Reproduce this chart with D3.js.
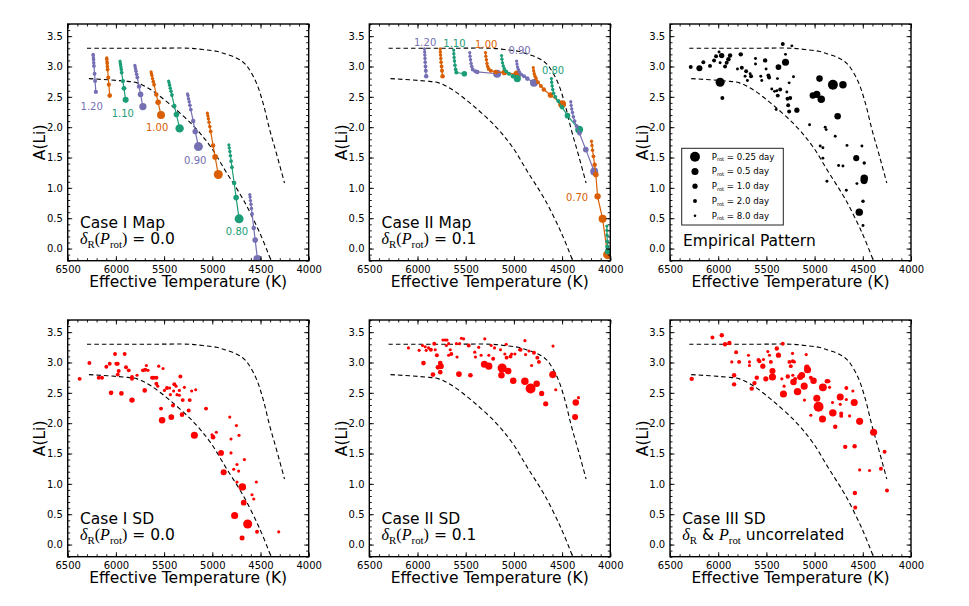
<!DOCTYPE html>
<html><head><meta charset="utf-8">
<script src="https://cdn.jsdelivr.net/npm/d3@7"></script>
<style>body{margin:0;background:#fff}svg{display:block}text{white-space:pre}</style>
</head><body><svg id="c" width="969" height="606"></svg>
<script>
// ---------------- DATA ----------------
const xTicks = [6500, 6000, 5500, 5000, 4500, 4000];
const yTicks = [0.0, 0.5, 1.0, 1.5, 2.0, 2.5, 3.0, 3.5];

// dashed envelope curves [Teff, A(Li)]
const upperT = [6300, 5700, 5230, 5100, 4955, 4850, 4749, 4680, 4628, 4543, 4474, 4405, 4337, 4251];
const upperA = [3.30, 3.30, 3.30, 3.28, 3.25, 3.20, 3.14, 3.07, 2.98, 2.73, 2.40, 1.96, 1.58, 1.08];
const lowerT = [6280, 5916, 5779, 5641, 5435, 5195, 5023, 4852, 4680, 4508, 4390];
const lowerA = [2.80, 2.76, 2.73, 2.62, 2.37, 2.02, 1.69, 1.25, 0.81, 0.26, -0.20];

// Case I map tracks: [Teff, A(Li), Prot]
const case1Masses = ["1.20","1.15","1.10","1.05","1.00","0.95","0.90","0.85","0.80","0.75"];
const case1Tracks = [
 [[6236,3.20,8],[6235,3.18,7],[6233,3.14,6],[6232,3.11,5],[6230,3.06,5],[6228,3.01,4],[6221,2.88,4],[6216,2.76,3],[6208,2.58,2.5]],
 [[6095,3.14,8],[6094,3.12,7],[6092,3.08,6],[6090,3.05,5],[6088,3.00,5],[6086,2.95,4],[6079,2.82,3],[6073,2.70,2.5],[6064,2.52,1.8]],
 [[5957,3.09,10],[5955,3.06,8],[5952,3.03,7],[5948,2.99,6],[5944,2.95,5],[5940,2.90,4],[5927,2.76,2.5],[5916,2.64,1.5],[5899,2.45,0.8]],
 [[5803,3.02,10],[5800,2.99,8],[5796,2.96,7],[5791,2.92,6],[5785,2.87,5],[5778,2.82,4],[5760,2.67,2],[5744,2.54,1],[5720,2.34,0.5]],
 [[5635,2.91,10],[5631,2.88,8],[5626,2.85,7],[5620,2.80,6],[5612,2.75,5],[5604,2.70,4],[5581,2.54,2],[5562,2.41,1],[5532,2.20,0.4]],
 [[5453,2.76,10],[5448,2.73,8],[5443,2.69,7],[5436,2.64,6],[5428,2.59,5],[5419,2.53,4],[5394,2.35,2],[5372,2.21,1],[5339,1.98,0.35]],
 [[5257,2.55,10],[5252,2.52,8],[5247,2.47,7],[5240,2.42,6],[5232,2.36,5],[5223,2.29,4],[5198,2.10,2],[5177,1.93,1],[5144,1.68,0.3]],
 [[5051,2.23,10],[5046,2.19,8],[5041,2.14,7],[5034,2.08,6],[5026,2.01,5],[5017,1.93,4],[4992,1.70,2],[4971,1.51,1],[4938,1.22,0.3]],
 [[4828,1.71,10],[4824,1.66,8],[4818,1.60,7],[4812,1.53,6],[4805,1.44,5],[4796,1.34,4],[4773,1.08,2],[4753,0.84,1],[4722,0.49,0.3]],
 [[4611,0.89,10],[4608,0.85,8],[4604,0.79,7],[4599,0.73,6],[4594,0.66,5],[4587,0.57,4],[4570,0.34,2],[4555,0.14,1],[4532,-0.17,0.4]]
];
const case1Labels = [["1.20",6251,2.34],["1.10",5928,2.22],["1.00",5572,2.00],["0.90",5177,1.45],["0.80",4744,0.28]];

// Case II map tracks
const case2Masses = ["1.20","1.15","1.10","1.05","1.00","0.95","0.90","0.85","0.80","0.75","0.70","0.65"];
const case2Tracks = [
 [[5927,3.29,10],[5926,3.24,8],[5924,3.19,7],[5922,3.13,6],[5920,3.07,5],[5917,3.00,4],[5914,2.93,3],[5910,2.84,2]],
 [[5764,3.29,10],[5763,3.24,8],[5761,3.19,7],[5758,3.13,6],[5755,3.07,5],[5750,3.00,4],[5746,2.93,3],[5740,2.84,2]],
 [[5625,3.27,10],[5623,3.21,8],[5620,3.15,7],[5616,3.09,6],[5611,3.02,5],[5604,2.95,4],[5597,2.90,3],[5514,2.88,1]],
 [[5458,3.23,10],[5455,3.17,8],[5450,3.11,7],[5444,3.05,6],[5437,3.00,5],[5428,2.95,4],[5400,2.92,3],[5380,2.91,2],[5174,2.88,0.4]],
 [[5295,3.23,10],[5291,3.17,8],[5285,3.11,7],[5279,3.05,6],[5272,3.00,5],[5262,2.96,4],[5240,2.93,3],[5190,2.91,2],[5100,2.90,1],[4965,2.87,0.4]],
 [[5128,3.18,10],[5124,3.12,8],[5118,3.06,7],[5110,3.01,6],[5100,2.96,5],[5080,2.92,4],[5052,2.88,3],[5010,2.84,2],[4965,2.80,0.5]],
 [[4972,3.09,10],[4968,3.04,8],[4962,2.99,7],[4954,2.95,6],[4944,2.91,5],[4925,2.87,4],[4895,2.84,3],[4861,2.80,2],[4792,2.73,0.4]],
 [[4799,2.98,10],[4795,2.93,8],[4789,2.88,7],[4781,2.84,6],[4770,2.80,5],[4750,2.74,4],[4720,2.68,3],[4690,2.62,2],[4620,2.53,1],[4500,2.38,0.4]],
 [[4611,2.80,10],[4608,2.74,8],[4603,2.68,7],[4597,2.62,6],[4588,2.56,5],[4570,2.50,4],[4540,2.43,3],[4500,2.33,2],[4444,2.19,1],[4323,1.96,0.4]],
 [[4410,2.42,10],[4406,2.36,8],[4400,2.30,7],[4392,2.24,6],[4383,2.17,5],[4370,2.10,4],[4350,2.02,3],[4320,1.90,2],[4254,1.63,1],[4167,1.27,0.4]],
 [[4195,1.77,10],[4190,1.70,8],[4184,1.62,6],[4175,1.52,4],[4162,1.38,2],[4150,1.22,1],[4132,0.86,0.7],[4080,0.49,0.4],[4028,-0.10,0.3]],
 [[4036,0.37,10],[4035,0.30,8],[4034,0.22,6],[4032,0.12,4],[4030,0.03,2],[4028,-0.05,1]]
];
const case2Labels = [["1.20",5921,3.40],["1.10",5617,3.38],["1.00",5287,3.37],["0.90",4941,3.26],["0.80",4594,2.94],["0.70",4345,0.84]];

// Empirical pattern: [Teff, A(Li), Prot]
const empirical = [
 [6285,2.99,2],[6195,2.97,0.7],[6154,3.07,2],[6085,3.01,2],[6043,3.10,2],[6022,3.17,2],[5991,3.24,5],[5970,3.18,2],[5963,3.18,1],[5980,2.74,0.3],
 [5957,2.48,2],[5980,3.06,5],[5929,3.00,2],[5912,3.06,2],[5894,3.12,1.5],[5877,3.18,1.5],[5766,3.20,1.5],[5800,2.96,5],[5755,2.98,2],[5710,2.92,2],
 [5721,2.84,5],[5697,2.77,5],[5669,2.88,5],[5659,2.84,2],[5613,3.13,5],[5613,3.04,5],[5558,2.84,5],[5548,2.77,5],[5513,3.10,1.5],[5503,2.96,5],
 [5479,2.85,2],[5472,2.82,2],[5444,2.63,5],[5416,2.59,5],[5392,2.60,5],[5382,2.52,2],[5385,2.80,5],[5375,2.99,0.8],[5357,2.62,2],[5399,2.29,5],
 [5330,3.37,2],[5302,3.07,0.5],[5302,3.20,5],[5288,2.58,5],[5281,2.47,2],[5274,2.36,2],[5264,2.26,2],[5264,2.73,5],[5253,2.48,2],[5236,3.34,5],
 [5219,2.83,5],[5184,2.28,1],[5052,2.04,5],[5018,2.52,0.6],[4977,2.54,0.5],[4949,2.80,0.6],[4931,2.46,0.45],[4942,1.69,5],[4914,1.66,5],[4914,1.49,5],
 [4890,2.00,5],[4880,1.96,5],[4872,1.11,5],[4786,1.85,5],[4810,2.70,0.25],[4761,2.18,0.6],[4706,2.70,0.45],[4751,1.37,5],[4706,1.36,5],[4664,1.70,5],
 [4671,0.96,5],[4568,1.49,0.7],[4561,1.07,5],[4509,1.69,5],[4485,1.41,3],[4485,1.16,0.45],[4487,1.12,0.5],[4498,0.78,3],[4498,0.38,5],[4537,0.60,0.45]
];
const legendProt = [0.25, 0.5, 1.0, 2.0, 8.0];
const legendLabels = ["0.25", "0.5", "1.0", "2.0", "8.0"];

// Case I SD
const case1SD = [
 [6376,2.73,2],[6275,2.99,2],[6178,2.75,2],[6144,2.75,2],[6099,2.93,2],[6064,2.98,2],[6050,2.50,1.3],[6009,3.14,2],[5995,2.98,2],[5981,2.98,2],
 [5981,2.80,2],[5971,2.86,2],[5943,2.49,1.3],[5909,3.14,2],[5895,2.92,2],[5867,2.87,2],[5833,2.38,0.9],[5833,2.76,2],[5833,2.73,2],[5781,2.79,4],
 [5719,2.87,2],[5684,2.95,4],[5695,2.88,2],[5667,2.87,4],[5701,2.54,1.3],[5625,2.75,2],[5608,2.75,2],[5580,2.75,2],[5580,2.65,2],[5566,2.61,4],
 [5556,2.94,4],[5532,2.24,2],[5521,2.05,0.6],[5511,2.90,4],[5497,2.54,4],[5470,2.58,2],[5442,2.58,4],[5435,2.47,4],[5425,2.10,0.8],[5408,2.29,2],
 [5401,2.53,4],[5394,2.64,2],[5376,2.61,4],[5366,2.47,4],[5342,2.46,4],[5342,2.54,4],[5331,2.77,2],[5314,2.14,1.3],[5307,2.38,2],[5290,2.59,4],
 [5245,2.21,2],[5234,2.38,2],[5214,2.53,4],[5186,1.80,0.5],[5172,2.55,4],[5065,2.24,2],[5003,1.81,4],[4992,1.77,1.3],[4958,1.85,4],[4909,1.51,0.8],
 [4882,1.19,0.7],[4819,2.10,4],[4806,1.74,4],[4806,1.51,4],[4778,1.24,4],[4768,0.48,0.5],[4750,1.96,4],[4744,1.32,4],[4727,1.21,4],[4723,1.80,4],
 [4744,1.03,4],[4688,0.95,0.45],[4674,0.69,0.8],[4691,0.11,1.1],[4633,0.34,0.3],[4667,1.40,4],[4588,0.82,4],[4570,0.75,4],[4543,1.03,4],[4536,0.21,2],
 [4311,0.21,4]
];

// Case II SD
const case2SD = [
 [6094,3.24,4],[5983,3.20,4],[5938,2.99,1.3],[5948,3.28,4],[5920,3.26,4],[5910,3.20,4],[5885,3.24,4],[5861,3.21,2],[5840,2.80,1.3],[5826,3.31,2],
 [5816,3.21,4],[5799,3.12,2],[5788,2.92,1.3],[5764,2.99,1.3],[5764,2.84,1.3],[5757,2.94,0.8],[5736,3.37,4],[5712,3.37,4],[5701,3.28,4],[5694,3.37,4],
 [5677,3.31,4],[5677,3.12,4],[5660,3.21,4],[5649,3.14,2],[5597,3.31,4],[5590,3.09,4],[5563,3.31,4],[5570,2.81,0.8],[5545,3.40,4],[5521,3.39,4],
 [5469,3.28,2],[5451,2.79,1.3],[5406,3.17,4],[5399,3.09,4],[5365,3.25,4],[5340,3.12,4],[5312,2.99,4],[5302,3.39,4],[5306,2.97,0.5],[5260,2.94,0.5],
 [5260,3.12,4],[5236,3.28,4],[5215,3.06,2],[5201,3.24,4],[5139,3.21,4],[5122,2.91,0.3],[5129,2.79,0.6],[5094,3.14,4],[5080,3.30,4],[5076,3.08,2],
 [5059,2.86,0.6],[5035,3.10,2],[5024,3.14,4],[5007,2.70,0.6],[4990,3.14,4],[4941,3.21,4],[4931,3.21,2],[4886,3.36,4],[4886,2.69,0.45],[4879,3.13,4],
 [4844,3.19,4],[4827,2.57,0.25],[4816,2.95,4],[4792,3.16,2],[4764,2.65,0.6],[4757,3.08,2],[4740,3.01,2],[4712,2.49,1],[4670,2.32,1],[4594,3.27,4],
 [4597,2.80,0.5],[4566,2.55,4],[4358,2.34,0.6],[4365,2.10,0.7],[4330,2.42,4]
];

// Case III SD
const case3SD = [
 [6275,2.73,1.5],[6060,3.41,2],[5963,3.45,1.5],[5929,3.30,1.5],[5884,3.32,1.5],[5835,2.79,1.5],[5835,2.64,1.5],[5814,3.17,2],[5859,3.01,4],[5783,3.01,2],
 [5686,3.12,4],[5676,3.01,4],[5676,2.95,4],[5652,2.57,1.5],[5624,2.66,1.5],[5600,2.75,1.5],[5582,3.04,2],[5572,3.02,2],[5530,3.05,4],[5537,2.94,1],
 [5506,2.73,1],[5485,3.18,4],[5468,3.12,4],[5454,3.01,2],[5437,2.86,0.7],[5437,2.76,0.5],[5392,3.23,1.5],[5375,3.12,1],[5340,2.73,4],[5330,3.31,2],
 [5323,2.48,0.5],[5316,2.61,4],[5278,2.77,1.5],[5261,3.01,2],[5247,2.94,2],[5229,3.15,4],[5226,3.02,2],[5226,2.79,4],[5219,2.68,0.6],[5209,3.01,4],
 [5202,2.73,2],[5177,2.52,0.45],[5150,2.76,0.7],[5132,2.79,0.6],[5108,2.61,0.5],[5105,2.38,4],[5087,3.13,4],[5080,2.92,0.9],[5073,2.88,0.5],[5039,2.75,2],
 [5039,2.13,4],[5011,2.70,0.6],[4977,2.41,0.5],[4959,2.27,0.25],[4918,2.07,0.5],[4914,2.59,0.4],[4873,2.69,1.5],[4856,2.69,2],[4845,2.59,4],[4814,2.34,4],
 [4811,2.17,0.45],[4786,1.94,1.5],[4734,2.43,0.5],[4734,2.31,4],[4724,2.16,2],[4724,2.12,2],[4682,1.61,1.5],[4671,2.58,2],[4671,2.39,4],[4637,2.12,4],
 [4603,2.53,4],[4589,2.34,0.5],[4585,1.62,1.5],[4582,0.85,1.5],[4578,0.61,2],[4533,2.03,0.5],[4533,1.23,4],[4430,1.22,4],[4388,1.85,0.5],[4312,1.25,2],
 [4274,1.53,2],[4249,0.89,2]
];

// ---------------- DRAWING ----------------
const svg = d3.select("#c");
const PW = 241, PH = 236.7;
const lefts = [67.7, 369.3, 670], tops = [24, 320];
const x = d3.scaleLinear().domain([6500, 4000]).range([0, PW]);
const y = d3.scaleLinear().domain([-0.2, 3.7]).range([PH, 0]);
const r = d3.scalePow().exponent(-0.6).domain([1, 8]).range([2.6, 1.3]);
const rT = d3.scalePow().exponent(-0.6).domain([1, 10]).range([2.8, 1.6]);
const palette = ["#7570b3", "#d95f02", "#1b9e77"];
const SANS = "DejaVu Sans, sans-serif";
const SERIF = "Liberation Serif, DejaVu Serif, serif";

svg.append("rect").attr("width", 969).attr("height", 606).attr("fill", "#fff");

const line = d3.line().x(d => x(d[0])).y(d => y(d[1]));
const curve = d3.line().x(d => x(d[0])).y(d => y(d[1])).curve(d3.curveCatmullRom.alpha(0.5));
const upper = upperT.map((t, i) => [t, upperA[i]]);
const lower = lowerT.map((t, i) => [t, lowerA[i]]);

let clipId = 0;
function makePanel(col, row) {
  const g = svg.append("g").attr("transform", `translate(${lefts[col]},${tops[row]})`);
  const id = "clip" + (clipId++);
  g.append("clipPath").attr("id", id).append("rect").attr("width", PW).attr("height", PH);
  const inner = g.append("g").attr("clip-path", `url(#${id})`);
  [upper, lower].forEach(c => inner.append("path").attr("d", curve(c))
    .attr("fill", "none").attr("stroke", "#000").attr("stroke-width", 1.1)
    .attr("stroke-dasharray", "4.5,3"));
  return { g, inner };
}

function finishAxes(g) {
  const xMinor = d3.range(4000, 6501, 100);
  const yMinor = d3.range(-2, 38).map(v => v / 10);
  const style = a => {
    a.select(".domain").remove();
    a.selectAll("line").attr("stroke", "#000").attr("stroke-width", 0.9);
    a.attr("font-family", SANS).attr("font-size", 10);
    a.selectAll("text").attr("fill", "#000");
  };
  g.append("g").attr("transform", `translate(0,${PH})`).call(d3.axisBottom(x).tickValues(xTicks).tickSize(-4.5).tickPadding(4.8).tickFormat(d3.format("d"))).call(style);
  g.append("g").attr("transform", `translate(0,${PH})`).call(d3.axisBottom(x).tickValues(xMinor).tickSize(-2.5).tickFormat("")).call(style);
  g.append("g").call(d3.axisTop(x).tickValues(xTicks).tickSize(-4.5).tickFormat("")).call(style);
  g.append("g").call(d3.axisTop(x).tickValues(xMinor).tickSize(-2.5).tickFormat("")).call(style);
  g.append("g").call(d3.axisLeft(y).tickValues(yTicks).tickSize(-4.5).tickPadding(4.8).tickFormat(d3.format(".1f"))).call(style);
  g.append("g").call(d3.axisLeft(y).tickValues(yMinor).tickSize(-2.5).tickFormat("")).call(style);
  g.append("g").attr("transform", `translate(${PW},0)`).call(d3.axisRight(y).tickValues(yTicks).tickSize(-4.5).tickFormat("")).call(style);
  g.append("g").attr("transform", `translate(${PW},0)`).call(d3.axisRight(y).tickValues(yMinor).tickSize(-2.5).tickFormat("")).call(style);
  g.append("rect").attr("width", PW).attr("height", PH).attr("fill", "none").attr("stroke", "#000").attr("stroke-width", 1.4);
  g.append("text").attr("x", PW / 2).attr("y", PH + 26.3).attr("text-anchor", "middle")
    .attr("font-family", SANS).attr("font-size", 15.5).text("Effective Temperature (K)");
  g.append("text").attr("transform", `translate(-22.5,${PH / 2}) rotate(-90)`).attr("text-anchor", "middle")
    .attr("font-family", SANS).attr("font-size", 15.5).text("A(Li)");
}

// rich text: parts [text, kind] kind: sans | it | rm | sub
function richText(g, x0, y0, parts, size) {
  const t = g.append("text").attr("x", x0).attr("y", y0).attr("font-size", size).attr("font-family", SANS);
  let low = false;
  parts.forEach(([s, k]) => {
    const ts = t.append("tspan").text(s);
    if (k === "sub") {
      ts.attr("font-family", SERIF).attr("font-size", size * 0.7);
      if (!low) { ts.attr("dy", size * 0.22); low = true; }
    } else {
      if (low) { ts.attr("dy", -size * 0.22); low = false; }
      if (k === "it") ts.attr("font-family", SERIF).attr("font-style", "italic").attr("font-size", size * 1.04);
      if (k === "rm") ts.attr("font-family", SERIF).attr("font-size", size * 1.04);
    }
  });
  return t;
}
function deltaLine(g, val) {
  return richText(g, 12.3, PH - 16.4, [["δ", "it"], ["R", "sub"], ["(", "rm"], ["P", "it"], ["rot", "sub"], [")", "rm"], [" = " + val, "sans"]], 15.5);
}

function drawTracks(inner, tracks) {
  tracks.forEach((tr, i) => {
    const c = palette[i % 3];
    inner.append("path").attr("d", line(tr)).attr("fill", "none").attr("stroke", c).attr("stroke-width", 1.2);
    inner.selectAll(null).data(tr).enter().append("circle")
      .attr("cx", d => x(d[0])).attr("cy", d => y(d[1])).attr("r", d => rT(d[2])).attr("fill", c);
  });
}
function drawLabels(g, labels, masses) {
  labels.forEach(([s, t, a]) => {
    g.append("text").attr("x", x(t)).attr("y", y(a)).attr("dy", "0.35em").attr("text-anchor", "middle")
      .attr("font-family", SANS).attr("font-size", 10).attr("fill", palette[masses.indexOf(s) % 3]).text(s);
  });
}
function drawDots(inner, pts, color) {
  inner.selectAll(null).data(pts).enter().append("circle")
    .attr("cx", d => x(d[0])).attr("cy", d => y(d[1])).attr("r", d => r(d[2])).attr("fill", color);
}

// Panel 1: Case I Map
{
  const { g, inner } = makePanel(0, 0);
  drawTracks(inner, case1Tracks);
  drawLabels(g, case1Labels, case1Masses);
  finishAxes(g);
  g.append("text").attr("x", 12.3).attr("y", PH - 32.5).attr("font-family", SANS).attr("font-size", 15.5).text("Case I Map");
  deltaLine(g, "0.0");
}
// Panel 2: Case II Map
{
  const { g, inner } = makePanel(1, 0);
  drawTracks(inner, case2Tracks);
  drawLabels(g, case2Labels, case2Masses);
  finishAxes(g);
  g.append("text").attr("x", 12.3).attr("y", PH - 32.5).attr("font-family", SANS).attr("font-size", 15.5).text("Case II Map");
  deltaLine(g, "0.1");
}
// Panel 3: Empirical
{
  const { g, inner } = makePanel(2, 0);
  drawDots(inner, empirical, "#000");
  finishAxes(g);
  g.append("text").attr("x", 13).attr("y", PH - 15).attr("font-family", SANS).attr("font-size", 15.5).text("Empirical Pattern");
  const lg = g.append("g").attr("transform", "translate(11.7,124.3)");
  lg.append("rect").attr("width", 101.6).attr("height", 76.7).attr("fill", "#fff").attr("stroke", "#222").attr("stroke-width", 1);
  legendProt.forEach((p, i) => {
    const yy = 8.4 + i * 14.75;
    lg.append("circle").attr("cx", 13.3).attr("cy", yy).attr("r", r(p)).attr("fill", "#000");
    richText(lg, 30, yy + 3, [["P", "sans"], ["rot", "subs"], [" = " + legendLabels[i] + " day", "sans"]], 8.6);
  });
  lg.selectAll("text").each(function () {
    const ts = d3.select(this).selectAll("tspan");
    ts.filter((d, k) => k === 1).attr("font-size", 5.2).attr("dy", 1.6);
    ts.filter((d, k) => k === 2).attr("dy", -1.6);
  });
}
// Panel 4: Case I SD
{
  const { g, inner } = makePanel(0, 1);
  drawDots(inner, case1SD, "#ff0000");
  finishAxes(g);
  g.append("text").attr("x", 12.3).attr("y", PH - 32.5).attr("font-family", SANS).attr("font-size", 15.5).text("Case I SD");
  deltaLine(g, "0.0");
}
// Panel 5: Case II SD
{
  const { g, inner } = makePanel(1, 1);
  drawDots(inner, case2SD, "#ff0000");
  finishAxes(g);
  g.append("text").attr("x", 12.3).attr("y", PH - 32.5).attr("font-family", SANS).attr("font-size", 15.5).text("Case II SD");
  deltaLine(g, "0.1");
}
// Panel 6: Case III SD
{
  const { g, inner } = makePanel(2, 1);
  drawDots(inner, case3SD, "#ff0000");
  finishAxes(g);
  g.append("text").attr("x", 12.3).attr("y", PH - 32.5).attr("font-family", SANS).attr("font-size", 15.5).text("Case III SD");
  richText(g, 12.3, PH - 16.4, [["δ", "it"], ["R", "sub"], [" & ", "sans"], ["P", "it"], ["rot", "sub"], [" uncorrelated", "sans"]], 15.5);
}
</script></body></html>
